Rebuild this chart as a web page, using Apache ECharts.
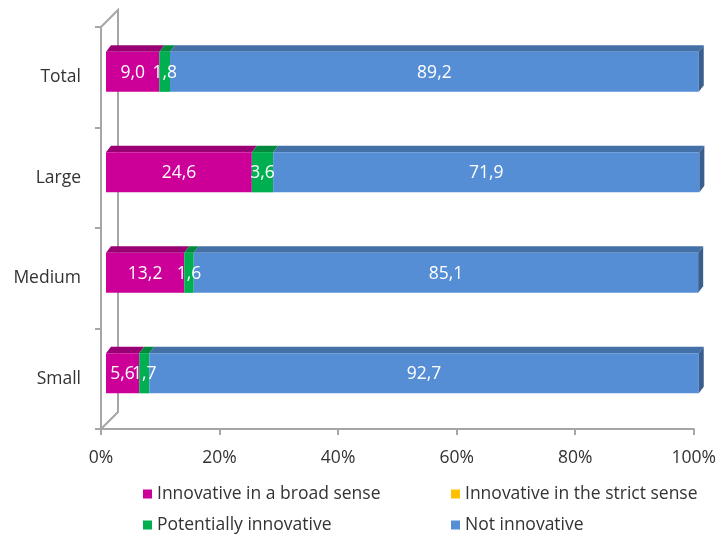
<!DOCTYPE html>
<html>
<head>
<meta charset="utf-8">
<script src="https://cdn.jsdelivr.net/npm/echarts@6/dist/echarts.min.js"></script>
<style>
  html, body { margin: 0; padding: 0; background: #fff; }
  #chart { width: 719px; height: 536px; }
</style>
</head>
<body>
<div id="chart"></div>
<script>
// Share of enterprises by innovation status and size class (%)
const categories = ['Total', 'Large', 'Medium', 'Small'];
const broadSense = [9.0, 24.6, 13.2, 5.6];
const strictSense = [0, 0, 0, 0];
const potentially = [1.8, 3.6, 1.6, 1.7];
const notInnovative = [89.2, 71.9, 85.1, 92.7];
const xTicks = [0, 20, 40, 60, 80, 100];

const seriesDefs = [
  { name: 'Innovative in a broad sense', values: broadSense, front: '#CC0099', top: '#990073', side: '#8A0067' },
  { name: 'Innovative in the strict sense', values: strictSense, front: '#FFC000', top: '#C89600', side: '#B08400' },
  { name: 'Potentially innovative', values: potentially, front: '#00B050', top: '#008A3E', side: '#007A36' },
  { name: 'Not innovative', values: notInnovative, front: '#558ED5', top: '#4470A8', side: '#3A5E8E' }
];

// Plot frame (front plane of the 3D box)
const GRID = { left: 101, top: 27, width: 594, height: 402 };
const WALL_DEPTH = 17;       // depth of the side wall
const BAR_SHIFT = [5, -5.5]; // bars sit a little behind the front plane
const BAR_DEPTH = [5, 6.5];  // extrusion of each bar
const FONT = 'Open Sans';
const FONT_SIZE = 17.5;
const TEXT = '#333333';
const AXIS = '#A6A6A6';

// Cumulative stacking of the segments
const cumulative = categories.map(() => 0);
const series = seriesDefs.map((def, si) => {
  const data = def.values.map((v, ci) => {
    const start = cumulative[ci];
    cumulative[ci] += v;
    return [start, start + v, ci, v];
  });
  const isLast = si === seriesDefs.length - 1;
  return {
    type: 'custom',
    name: def.name,
    itemStyle: { color: def.front },
    encode: { x: [0, 1], y: 2 },
    data: data,
    renderItem: function (params, api) {
      const v = api.value(3);
      if (!(v > 0)) return null;
      const ci = api.value(2);
      const a = api.coord([api.value(0), ci]);
      const b = api.coord([api.value(1), ci]);
      const band = api.size([0, 1])[1];
      const h = band * 0.4;
      const x0 = a[0] + BAR_SHIFT[0];
      const x1 = b[0] + BAR_SHIFT[0];
      const y = a[1] + BAR_SHIFT[1] - h / 2;
      const dx = BAR_DEPTH[0], dy = BAR_DEPTH[1];
      const children = [
        {
          type: 'polygon',
          shape: { points: [[x0, y], [x0 + dx, y - dy], [x1 + dx, y - dy], [x1, y]] },
          style: { fill: def.top }
        },
        {
          type: 'rect',
          shape: { x: x0, y: y, width: x1 - x0, height: h },
          style: { fill: def.front }
        },
        {
          // value label, kept above every neighbouring segment
          type: 'text',
          z2: 100,
          x: (x0 + x1) / 2,
          y: y + h / 2 + 1,
          style: {
            text: v.toFixed(1).replace('.', ','),
            fill: '#ffffff',
            font: FONT_SIZE + 'px "' + FONT + '"',
            align: 'center',
            verticalAlign: 'middle'
          }
        }
      ];
      if (isLast) {
        children.push({
          type: 'polygon',
          shape: { points: [[x1, y], [x1 + dx, y - dy], [x1 + dx, y + h - dy], [x1, y + h]] },
          style: { fill: def.side }
        });
      }
      return { type: 'group', children: children };
    }
  };
});

// Legend laid out in two rows of two columns
const legendSlots = [
  { left: 138, top: 480 },
  { left: 446, top: 480 },
  { left: 138, top: 511 },
  { left: 446, top: 511 }
];
const legends = seriesDefs.map((def, i) => ({
  icon: 'rect',
  itemWidth: 9,
  itemHeight: 9,
  selectedMode: false,
  left: legendSlots[i].left,
  top: legendSlots[i].top,
  data: [def.name],
  textStyle: { color: TEXT, fontFamily: FONT, fontSize: FONT_SIZE }
}));

const chart = echarts.init(document.getElementById('chart'), null, { renderer: 'canvas' });
chart.setOption({
  animation: false,
  backgroundColor: '#ffffff',
  grid: Object.assign({ containLabel: false }, GRID),
  xAxis: {
    type: 'value',
    min: xTicks[0],
    max: xTicks[xTicks.length - 1],
    interval: xTicks[1] - xTicks[0],
    axisLine: { show: true, lineStyle: { color: AXIS, width: 2 } },
    axisTick: { show: true, length: 6, lineStyle: { color: AXIS, width: 2 } },
    splitLine: { show: false },
    axisLabel: { formatter: '{value}%', color: TEXT, fontFamily: FONT, fontSize: FONT_SIZE, margin: 20 }
  },
  yAxis: {
    type: 'category',
    inverse: true,
    data: categories,
    axisLine: { show: true, lineStyle: { color: AXIS, width: 2 } },
    axisTick: { show: true, length: 6, lineStyle: { color: AXIS, width: 2 } },
    axisLabel: { color: TEXT, fontFamily: FONT, fontSize: FONT_SIZE, margin: 20, padding: [5, 0, 0, 0] }
  },
  legend: legends,
  series: series,
  graphic: [
    {
      // side wall of the 3D frame
      type: 'polyline',
      silent: true,
      z: 1,
      shape: {
        points: [
          [GRID.left, GRID.top],
          [GRID.left + WALL_DEPTH, GRID.top - WALL_DEPTH],
          [GRID.left + WALL_DEPTH, GRID.top + GRID.height - WALL_DEPTH],
          [GRID.left, GRID.top + GRID.height]
        ]
      },
      style: { stroke: AXIS, lineWidth: 2, fill: null }
    }
  ]
});
</script>
</body>
</html>
